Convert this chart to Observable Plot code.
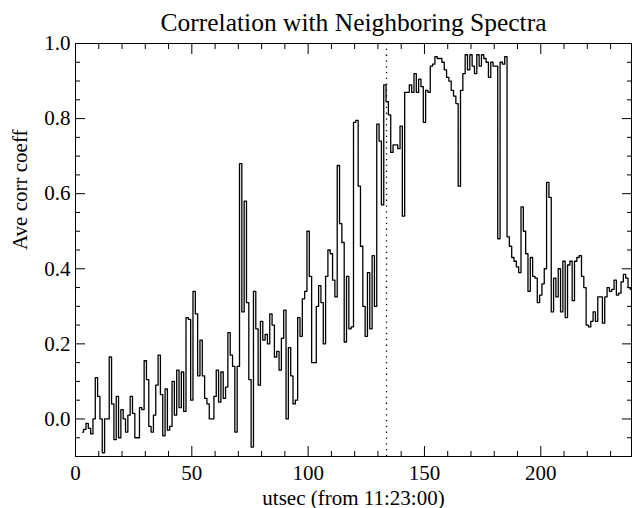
<!DOCTYPE html>
<html><head><meta charset="utf-8">
<script src="https://cdn.jsdelivr.net/npm/d3@7"></script>
<script src="https://cdn.jsdelivr.net/npm/@observablehq/plot@0.6"></script>
<style>body{margin:0;background:#fff}</style>
</head><body><div id="chart"></div>
<script>
const title = "Correlation with Neighboring Spectra";
const xLabel = "utsec (from 11:23:00)";
const yLabel = "Ave corr coeff";
const startSec = 3;
const corr = [
  -0.035, -0.028, -0.012, -0.025, -0.04, 0.0, 0.11, 0.06, 0.0, -0.09,
  0.0, 0.0, 0.165, 0.04, -0.055, 0.06, -0.05, 0.025, 0.0, -0.035,
  0.01, 0.06, 0.015, -0.05, -0.05, 0.03, 0.025, 0.155, 0.105, -0.02,
  -0.035, 0.01, 0.09, 0.17, 0.065, -0.045, 0.08, -0.03, -0.02, 0.1,
  0.01, 0.13, 0.03, 0.125, 0.02, 0.27, 0.265, 0.05, 0.34, 0.28,
  0.115, 0.21, 0.115, 0.055, 0.04, 0.0, 0.0, 0.06, 0.13, 0.045,
  0.125, 0.055, 0.085, 0.23, 0.17, 0.14, -0.035, 0.14, 0.68, 0.285,
  0.58, 0.31, 0.105, -0.075, 0.34, 0.24, 0.09, 0.26, 0.21, 0.225,
  0.2, 0.28, 0.25, 0.165, 0.18, 0.13, 0.215, 0.29, 0.0, 0.19,
  0.115, 0.04, 0.05, 0.27, 0.22, 0.32, 0.34, 0.5, 0.38, 0.15,
  0.15, 0.3, 0.355, 0.31, 0.2, 0.38, 0.45, 0.44, 0.37, 0.325,
  0.675, 0.52, 0.47, 0.205, 0.38, 0.24, 0.245, 0.79, 0.795, 0.62,
  0.46, 0.3, 0.22, 0.39, 0.24, 0.435, 0.3, 0.785, 0.74, 0.57,
  0.89, 0.845, 0.81, 0.71, 0.73, 0.73, 0.72, 0.78, 0.54, 0.87,
  0.87, 0.89, 0.87, 0.92, 0.87, 0.905, 0.885, 0.79, 0.875, 0.87,
  0.94, 0.945, 0.965, 0.96, 0.96, 0.95, 0.93, 0.91, 0.9, 0.875,
  0.86, 0.84, 0.62, 0.875, 0.92, 0.97, 0.93, 0.97, 0.94, 0.92,
  0.97, 0.94, 0.97, 0.96, 0.95, 0.91, 0.95, 0.94, 0.94, 0.48,
  0.95, 0.945, 0.965, 0.485, 0.46, 0.43, 0.42, 0.405, 0.39, 0.565,
  0.5, 0.44, 0.34, 0.43, 0.38, 0.375, 0.31, 0.33, 0.36, 0.4,
  0.63, 0.59, 0.285, 0.375, 0.325, 0.4, 0.285, 0.42, 0.27, 0.41,
  0.42, 0.315, 0.42, 0.43, 0.435, 0.38, 0.35, 0.25, 0.245, 0.26,
  0.285, 0.26, 0.325, 0.325, 0.255, 0.325, 0.35, 0.34, 0.345, 0.37,
  0.33, 0.335, 0.365, 0.385, 0.375, 0.35, 0.345
];
const markerSec = [133.7];
const xDomain = [0, 239];
const yDomain = [-0.1, 1.0];
const xMajor = [0, 50, 100, 150, 200];
const xMinor = [10, 20, 30, 40, 60, 70, 80, 90, 110, 120, 130, 140, 160, 170, 180, 190, 210, 220, 230];
const yMajor = [0.0, 0.2, 0.4, 0.6, 0.8, 1.0];
const yMinor = [-0.05, 0.05, 0.1, 0.15, 0.25, 0.3, 0.35, 0.45, 0.5, 0.55, 0.65, 0.7, 0.75, 0.85, 0.9, 0.95];

const data = corr.map((v, i) => ({t: startSec + i, v}));

const tickMarks = [
  ...["top", "bottom"].flatMap(a => [
    Plot.axisX(xMajor, {anchor: a, tickSize: -10, fill: "none", label: null}),
    Plot.axisX(xMinor, {anchor: a, tickSize: -5, fill: "none", label: null})
  ]),
  ...["left", "right"].flatMap(a => [
    Plot.axisY(yMajor, {anchor: a, tickSize: -10, fill: "none", label: null}),
    Plot.axisY(yMinor, {anchor: a, tickSize: -5, fill: "none", label: null})
  ])
];

const chart = Plot.plot({
  width: 632, height: 508,
  marginLeft: 75, marginRight: 1, marginTop: 43, marginBottom: 52,
  style: {fontFamily: "'Liberation Serif', 'Times New Roman', serif", fontSize: "21px", background: "#fff", color: "#000", overflow: "visible"},
  x: {domain: xDomain},
  y: {domain: yDomain},
  marks: [
    Plot.frame({stroke: "#000"}),
    ...tickMarks,
    Plot.axisX(xMajor, {anchor: "bottom", tickSize: 0, tickPadding: 9, label: null, tickFormat: d => String(d)}),
    Plot.axisY(yMajor, {anchor: "left", tickSize: 0, tickPadding: 5, label: null, tickFormat: d => d.toFixed(1)}),
    Plot.ruleX(markerSec, {stroke: "#000", strokeWidth: 1.3, strokeDasharray: "1.3,4.5"}),
    Plot.line(data, {x: "t", y: "v", curve: "step", stroke: "#000", strokeWidth: 1.3}),
    Plot.text([title], {frameAnchor: "top", dy: -13, lineAnchor: "bottom", fontSize: 25.5}),
    Plot.text([xLabel], {frameAnchor: "bottom", dy: 48, lineAnchor: "bottom", fontSize: 21}),
    Plot.text([yLabel], {frameAnchor: "left", dx: -55, rotate: -90, fontSize: 21})
  ]
});
document.getElementById("chart").appendChild(chart);
</script>
</body></html>
